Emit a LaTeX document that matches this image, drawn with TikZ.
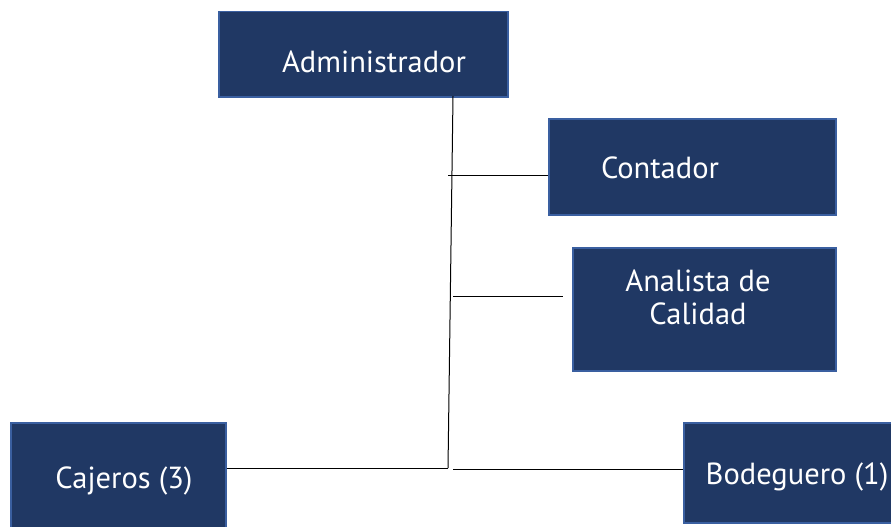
\documentclass[tikz,border=0pt]{standalone}
\usepackage{fontspec}
\setmainfont{PT Sans}
\definecolor{boxfill}{HTML}{203864}
\definecolor{boxedge}{HTML}{3A5FA0}
\tikzset{
  box/.style={draw=boxedge, line width=1.5pt, fill=boxfill, anchor=north west, inner sep=0pt},
  lbl/.style={text=white, font=\fontsize{30.5}{33}\selectfont, align=center, inner sep=0pt},
  conn/.style={draw=black, line width=1pt}
}
\begin{document}
\begin{tikzpicture}[x=1pt,y=-1pt]
\useasboundingbox (0,0) rectangle (891,527);
% boxes
\node[box, minimum width=289pt, minimum height=85pt] (admin) at (218,11) {};
\node[box, minimum width=287pt, minimum height=96pt] (cont) at (548,118) {};
\node[box, minimum width=263pt, minimum height=123pt] (anal) at (572,247) {};
\node[box, minimum width=215pt, minimum height=110pt] (caj) at (10,422) {};
\node[box, minimum width=215pt, minimum height=100pt] (bod) at (683,422) {};
% labels
\node[lbl] (tadmin) at (374,62) {Administrador};
\node[lbl] (tcont) at (660,168) {Contador};
\node[lbl] (tanal) at (698,297) {Analista de\\Calidad};
\node[lbl] (tcaj) at (124,481) {Cajeros (3)};
\node[lbl] (tbod) at (797,477) {Bodeguero (1)};
% trunk
\coordinate (top) at (453,96);
\coordinate (bot) at (448,468);
\coordinate (c1) at (448,175);
\coordinate (a1) at (453,296);
\coordinate (a2) at (563,296);
\coordinate (b1) at (453,469);
\draw[conn] (top) -- (bot);
\draw[conn] (c1) -- (cont.west |- c1);
\draw[conn] (a1) -- (a2);
\draw[conn] (caj.east |- bot) -- (bot);
\draw[conn] (b1) -- (bod.west |- b1);
\end{tikzpicture}
\end{document}
